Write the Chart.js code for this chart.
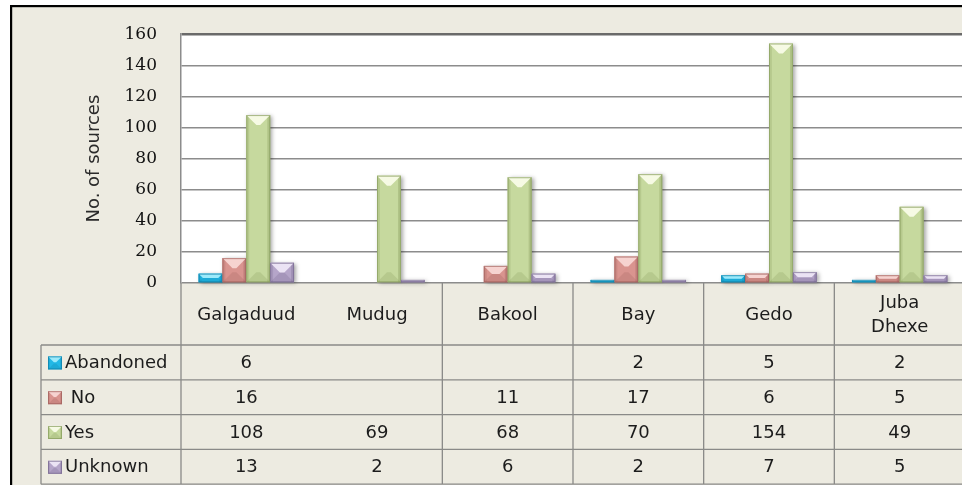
<!DOCTYPE html>
<html>
<head>
<meta charset="utf-8">
<script src="https://cdn.jsdelivr.net/npm/chart.js@4.4.0/dist/chart.umd.min.js"></script>
<style>
html, body { margin: 0; padding: 0; overflow: hidden; background: #fff; }
#wrap { width: 962px; height: 485px; overflow: hidden; position: relative; }
canvas { position: absolute; left: 0; top: 0; }
</style>
</head>
<body>
<div id="wrap"><canvas id="myChart" width="968" height="485"></canvas></div>
<script>
(function () {
    "use strict";

    // data
    var regions = ['Galgaduud', 'Mudug', 'Bakool', 'Bay', 'Gedo', ['Juba', 'Dhexe']];
    var abandoned = [6, null, null, 2, 5, 2];
    var no = [16, null, 11, 17, 6, 5];
    var yes = [108, 69, 68, 70, 154, 49];
    var unknown = [13, 2, 6, 2, 7, 5];
    var seriesNames = ['Abandoned', 'No', 'Yes', 'Unknown'];
    var yTickValues = [0, 20, 40, 60, 80, 100, 120, 140, 160];

    var palette = [
        { main: '#22b8e6', light: '#9ceafb', dark: '#0f7fa6' },
        { main: '#d9948f', light: '#f6d3d0', dark: '#9f5f5b' },
        { main: '#c6d99e', light: '#f6fae4', dark: '#879c5d' },
        { main: '#b5a5c9', light: '#ebe3f4', dark: '#76688f' }
    ];
    var allSeries = [abandoned, no, yes, unknown];

    var tableFont = '18px "DejaVu Sans"';
    var textColor = '#1c1c1c';
    var lineColor = '#8a8a88';

    function bevel(ctx, L, T, R, B, c, shadow) {
        var w = R - L, h = B - T;
        if (h <= 0) return;
        var d = Math.min(w * 0.42, h / 2);
        var s = Math.min(w * 0.12, h / 2);
        ctx.save();
        if (shadow) {
            ctx.shadowColor = 'rgba(0,0,0,0.35)';
            ctx.shadowBlur = 4;
            ctx.shadowOffsetX = 2;
            ctx.shadowOffsetY = 1;
        }
        ctx.fillStyle = c.main;
        ctx.fillRect(L, T, w, h);
        ctx.shadowColor = 'transparent';
        // side shading
        ctx.fillStyle = c.dark;
        ctx.globalAlpha = 0.25;
        ctx.fillRect(L, T, s, h);
        ctx.globalAlpha = 0.35;
        ctx.fillRect(R - s, T, s, h);
        // bottom facet
        ctx.globalAlpha = 0.25;
        ctx.beginPath();
        ctx.moveTo(L, B); ctx.lineTo(L + d, B - d); ctx.lineTo(R - d, B - d); ctx.lineTo(R, B);
        ctx.closePath(); ctx.fill();
        // top facet
        ctx.globalAlpha = 1;
        ctx.fillStyle = c.light;
        ctx.beginPath();
        ctx.moveTo(L, T); ctx.lineTo(R, T); ctx.lineTo(R - d, T + d); ctx.lineTo(L + d, T + d);
        ctx.closePath(); ctx.fill();
        ctx.strokeStyle = c.dark;
        ctx.globalAlpha = 0.7;
        ctx.lineWidth = 1;
        ctx.strokeRect(L + 0.5, T + 0.5, w - 1, h - 1);
        ctx.restore();
    }

    var frame = {
        id: 'frame',
        beforeDraw: function (chart) {
            var ctx = chart.ctx, a = chart.chartArea;
            ctx.save();
            ctx.fillStyle = '#ffffff';
            ctx.fillRect(0, 0, chart.width, chart.height);
            ctx.fillStyle = '#edebe1';
            ctx.fillRect(12, 7, chart.width - 12, chart.height - 7);
            ctx.fillStyle = '#000';
            ctx.fillRect(10, 5, chart.width - 10, 2.2);
            ctx.fillRect(10, 5, 2.2, chart.height - 5);
            ctx.fillStyle = '#ffffff';
            ctx.fillRect(a.left, a.top, a.right - a.left, a.bottom - a.top);
            ctx.restore();
        }
    };

    var bars3d = {
        id: 'bars3d',
        afterDatasetsDraw: function (chart) {
            var ctx = chart.ctx;
            chart.data.datasets.forEach(function (ds, i) {
                var meta = chart.getDatasetMeta(i);
                meta.data.forEach(function (bar, j) {
                    if (ds.data[j] == null) return;
                    var L = bar.x - bar.width / 2, R = bar.x + bar.width / 2;
                    bevel(ctx, L, bar.y, R, bar.base, palette[i], true);
                });
            });
        }
    };

    var dataTable = {
        id: 'dataTable',
        afterDraw: function (chart) {
            var ctx = chart.ctx, a = chart.chartArea, xs = chart.scales.x;
            var top = a.bottom, headBottom = 345, rowH = 34.8, bottom = headBottom + 4 * rowH;
            var keyLeft = 41, right = a.right;
            var n = regions.length;
            ctx.save();
            ctx.strokeStyle = lineColor;
            ctx.lineWidth = 1.3;
            ctx.beginPath();
            // verticals
            ctx.moveTo(a.left, top); ctx.lineTo(a.left, bottom);
            for (var k = 1; k < n; k++) {
                if (k === 1) continue; // no divider between the first two columns in the source
                var bx = (xs.getPixelForValue(k - 1) + xs.getPixelForValue(k)) / 2;
                ctx.moveTo(bx, top); ctx.lineTo(bx, bottom);
            }
            ctx.moveTo(keyLeft, headBottom); ctx.lineTo(keyLeft, bottom);
            // horizontals
            for (var r = 0; r <= 4; r++) {
                var y = headBottom + r * rowH;
                ctx.moveTo(keyLeft, y); ctx.lineTo(right, y);
            }
            ctx.stroke();

            ctx.font = tableFont;
            ctx.fillStyle = textColor;
            ctx.textAlign = 'center';
            ctx.textBaseline = 'middle';
            // header
            regions.forEach(function (lab, i) {
                var cx = xs.getPixelForValue(i);
                if (Array.isArray(lab)) {
                    ctx.fillText(lab[0], cx, 303);
                    ctx.fillText(lab[1], cx, 327);
                } else {
                    ctx.fillText(lab, cx, (top + headBottom) / 2 + 1);
                }
            });
            // rows
            allSeries.forEach(function (vals, r) {
                var cy = headBottom + r * rowH + rowH / 2;
                vals.forEach(function (v, i) {
                    if (v == null) return;
                    ctx.fillStyle = textColor;
                    ctx.textAlign = 'center';
                    ctx.fillText(String(v), xs.getPixelForValue(i), cy + 1);
                });
                bevel(ctx, 48, cy - 6, 62, cy + 7, palette[r], false);
                ctx.fillStyle = textColor;
                ctx.textAlign = 'left';
                ctx.fillText((r === 1 ? ' ' : '') + seriesNames[r], 65, cy + 1);
            });
            ctx.restore();
        }
    };

    var ctx = document.getElementById('myChart').getContext('2d');
    var chart = new Chart(ctx, {
        type: 'bar',
        data: {
            labels: regions,
            datasets: seriesNames.map(function (name, i) {
                return {
                    label: name,
                    data: allSeries[i],
                    backgroundColor: palette[i].main,
                    borderWidth: 0,
                    categoryPercentage: 0.73,
                    barPercentage: 1.0
                };
            })
        },
        options: {
            responsive: false,
            animation: false,
            layout: { padding: { top: 29, left: 0, right: 3, bottom: 202 } },
            plugins: {
                legend: { display: false },
                tooltip: { enabled: false }
            },
            scales: {
                x: { display: false },
                y: {
                    min: 0,
                    max: 160,
                    afterBuildTicks: function (scale) {
                        scale.ticks = yTickValues.map(function (v) { return { value: v }; });
                    },
                    afterFit: function (scale) { scale.width = 181; },
                    ticks: {
                        padding: 24,
                        color: '#111',
                        font: { family: '"DejaVu Serif"', size: 17 }
                    },
                    grid: {
                        drawTicks: false,
                        color: function (c) { return c.tick && c.tick.value === 160 ? '#6a6a6a' : '#8c8c8c'; },
                        lineWidth: function (c) { return c.tick && c.tick.value === 160 ? 2.6 : 1.5; }
                    },
                    border: { color: '#8c8c8c', width: 1.5 },
                    title: {
                        display: true,
                        text: 'No. of sources',
                        color: '#2a2a2a',
                        padding: { top: 84 },
                        font: { family: '"DejaVu Sans"', size: 18 }
                    }
                }
            }
        },
        plugins: [frame, bars3d, dataTable]
    });
})();
</script>
</body>
</html>
